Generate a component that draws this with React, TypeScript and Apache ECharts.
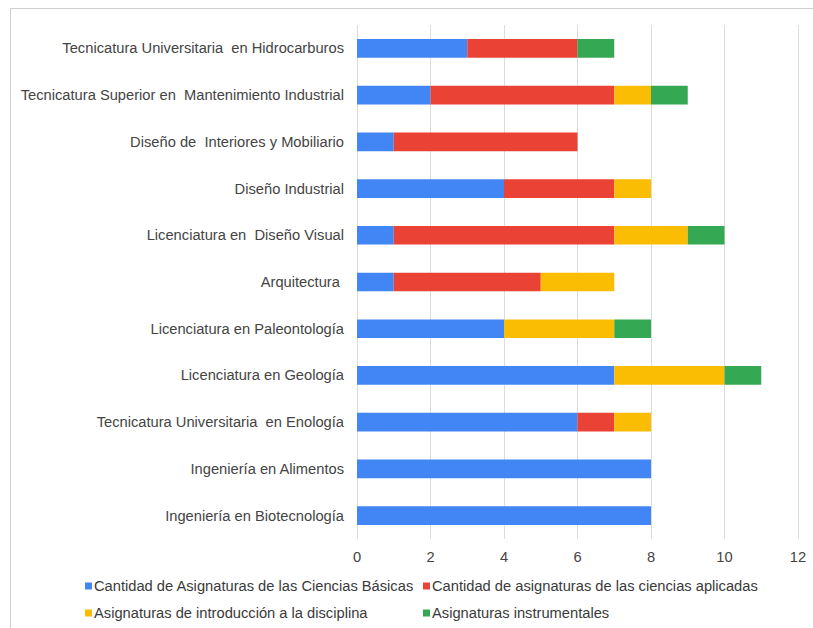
import React, { useEffect, useRef } from "react";
import * as echarts from "echarts";

const categories = [
  "Ingeniería en Biotecnología",
  "Ingeniería en Alimentos",
  "Tecnicatura Universitaria  en Enología",
  "Licenciatura en Geología",
  "Licenciatura en Paleontología",
  "Arquitectura ",
  "Licenciatura en  Diseño Visual",
  "Diseño Industrial",
  "Diseño de  Interiores y Mobiliario",
  "Tecnicatura Superior en  Mantenimiento Industrial",
  "Tecnicatura Universitaria  en Hidrocarburos",
];

const seriesNames = [
  "Cantidad de Asignaturas de las Ciencias Básicas",
  "Cantidad de asignaturas de las ciencias aplicadas",
  "Asignaturas de introducción a la disciplina",
  "Asignaturas instrumentales",
];

const basicas = [8, 8, 6, 7, 4, 1, 1, 4, 1, 2, 3];
const aplicadas = [0, 0, 1, 0, 0, 4, 6, 3, 5, 5, 3];
const introduccion = [0, 0, 1, 3, 3, 2, 2, 1, 0, 1, 0];
const instrumentales = [0, 0, 0, 1, 1, 0, 1, 0, 0, 1, 1];

const colors = ["#4285F4", "#EA4335", "#FBBC04", "#34A853"];
const xTicks = { min: 0, max: 12, interval: 2 };

export default function App() {
  const ref = useRef<HTMLDivElement>(null);
  useEffect(() => {
    if (!ref.current) return;
    const chart = echarts.init(ref.current, null, { renderer: "svg" });
    const values = [basicas, aplicadas, introduccion, instrumentales];
    const font = "Arial, 'Liberation Sans', sans-serif";
    const fs = 14.7;
    const legendPos = [
      { left: 80, top: 573.5 },
      { left: 418, top: 573.5 },
      { left: 80, top: 600.5 },
      { left: 418, top: 600.5 },
    ];
    chart.setOption({
      animation: false,
      backgroundColor: "#ffffff",
      textStyle: { fontFamily: font },
      graphic: [
        {
          type: "rect",
          shape: { x: 10.5, y: 8.5, width: 900, height: 700 },
          style: { fill: "none", stroke: "#d0d0d0", lineWidth: 1 },
          silent: true,
        },
      ],
      legend: seriesNames.map((n, i) => ({
        data: [n],
        left: legendPos[i].left,
        top: legendPos[i].top,
        itemWidth: 7,
        itemHeight: 7,
        itemGap: 4,
        icon: "rect",
        textStyle: { fontSize: fs, color: "#3a3a3a", fontFamily: font, padding: [0, 0, 0, -3] },
        selectedMode: false,
      })),
      grid: { left: 357, right: 15, top: 25, bottom: 89 },
      xAxis: {
        type: "value",
        min: xTicks.min,
        max: xTicks.max,
        interval: xTicks.interval,
        axisLine: { show: false },
        axisTick: { show: false },
        axisLabel: { color: "#444", fontSize: fs, margin: 10, fontFamily: font },
        splitLine: { lineStyle: { color: "#dcdcdc", width: 1 } },
      },
      yAxis: {
        type: "category",
        data: categories,
        axisLine: { show: false },
        axisTick: { show: false },
        axisLabel: { color: "#444", fontSize: fs, margin: 13, fontFamily: font },
        splitLine: { show: false },
      },
      series: seriesNames.map((n, i) => ({
        name: n,
        type: "bar",
        stack: "total",
        data: values[i],
        barCategoryGap: "60%",
        itemStyle: { color: colors[i] },
      })),
    });
    return () => chart.dispose();
  }, []);
  return (
    <div
      ref={ref}
      style={{ position: "fixed", left: 0, top: 0, width: 813, height: 628 }}
    />
  );
}
